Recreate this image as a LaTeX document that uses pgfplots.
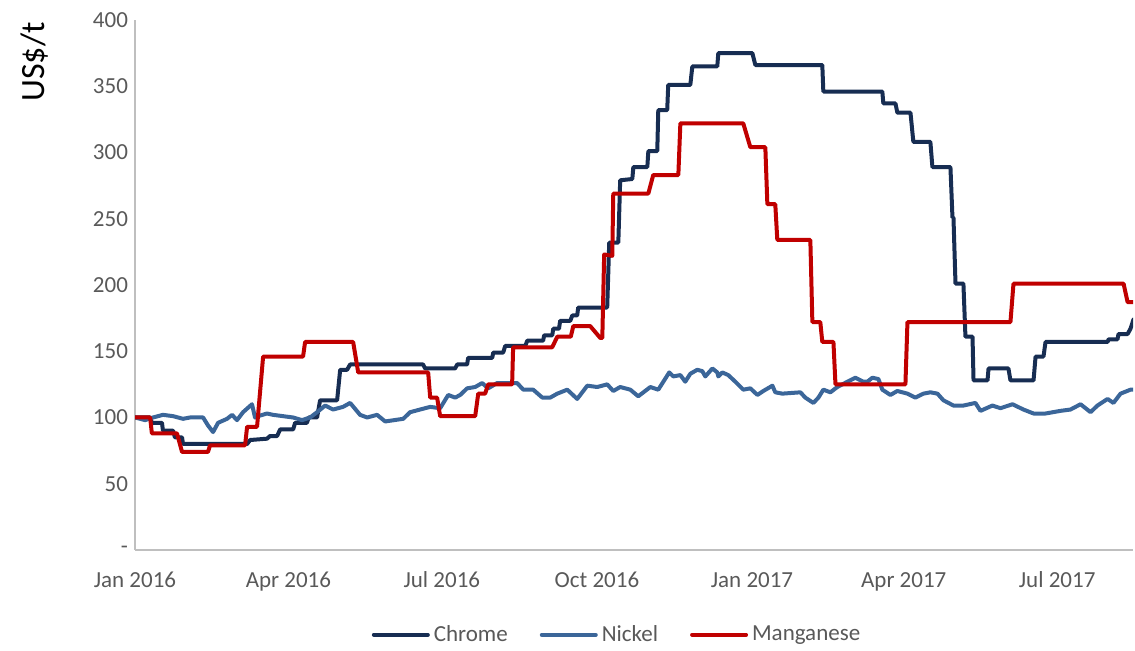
\documentclass[border=0pt]{standalone}
\usepackage{pgfplots}
\pgfplotsset{compat=1.18}
\usepackage{fontspec}
\setmainfont{Carlito}
\definecolor{chrome}{HTML}{172D52}
\definecolor{nickel}{HTML}{3B6699}
\definecolor{mangan}{HTML}{C00000}
\definecolor{axgray}{HTML}{BFBFBF}
\definecolor{txtgray}{HTML}{595959}
\begin{document}
\begin{tikzpicture}
\begin{axis}[
  scale only axis,
  width=499pt, height=265pt,
  xmin=0, xmax=592, ymin=0, ymax=400,
  enlargelimits=false,
  axis x line=bottom, axis y line=left,
  axis line style={-, draw=axgray, line width=0.8pt},
  major tick length=0pt,
  xtick={0,91,182,274,366,456,547},
  xticklabels={Jan 2016,Apr 2016,Jul 2016,Oct 2016,Jan 2017,Apr 2017,Jul 2017},
  ytick={0,50,100,150,200,250,300,350,400},
  yticklabels={-,50,100,150,200,250,300,350,400},
  /pgf/number format/assume math mode=true,
  tick label style={font=\fontsize{11.5}{13}\selectfont, text=txtgray},
  xticklabel style={text height=8pt, text depth=2.5pt, yshift=-7pt},
  legend columns=3,
  legend style={draw=none, at={(0.484,-0.16)}, anchor=center, inner sep=1pt,
    font=\fontsize{11.5}{13}\selectfont, text=txtgray,
    /tikz/every even column/.append style={column sep=14pt}},
  legend image code/.code={\draw[#1] (0pt,0pt) -- (27pt,0pt);},
  every axis plot/.append style={line width=2pt, line join=round, line cap=round},
]
\addplot[chrome] coordinates {
(0,100)(9,100)(10,96)(16,96)(16.6,90)(22.6,90)(23.7,85)(27.9,85)(28.5,80)(66.5,80)(68.3,83)(78.3,84)(80.1,86)(84.3,86)(86.1,91)(93.8,91)(95,96)(102,96)(103,100)(108,100)(109.8,113)(119.9,113)(121.7,136)(125.8,136)(127.6,140)(170.9,140)(172.1,137)(189.9,137)(191.1,140)(197,140)(197.6,145)(211.9,145)(212.5,149)(218.4,149)(219.6,154)(231.5,154)(232.7,158)(242.1,158)(242.7,162)(247.5,162)(248.1,167)(251.5,167)(252.2,173)(258.2,173)(259.4,177)(262.3,177)(262.9,183)(280.1,183)(281.3,232)(286.7,232)(287.8,279)(295,280)(295.6,289)(303.9,289)(304.5,301)(309.8,301)(310.4,332)(315.7,332)(316.3,351)(329.4,351)(330.6,365)(345.4,365)(346,375)(366.2,375)(368,366)(407.7,366)(408.3,346)(443.3,346)(443.9,337)(451.1,337)(452.2,330)(460,330)(461.7,308)(471.8,308)(473,289)(483.7,289)(484.9,251)(485.5,251)(486.7,201)(491.4,201)(492.6,161)(496.8,161)(497.4,128)(505.7,128)(506.3,137)(518.1,137)(519.3,128)(533,128)(534.2,146)(538.9,146)(540.1,157)(576.9,157)(577.5,159)(582.8,159)(583.4,163)(588.8,163)(590.5,167)(592.3,174)
};
\addlegendentry{Chrome}
\addplot[nickel] coordinates {
(0,100)(6,98)(10.7,100)(16.6,102)(22.6,101)(28.5,99)(32.6,100)(40.4,100)(43.3,94)(46.3,89)(49.3,96)(54.6,99)(57.6,102)(60.5,98)(64.1,104)(69.4,110)(71.2,100)(73,101)(78.3,103)(81.9,102)(87.8,101)(93.8,100)(99.1,98)(103.9,100)(108,104)(112.8,109)(117.5,106)(123.4,108)(127.6,111)(133.5,102)(137.7,100)(143.6,102)(148.4,97)(159.1,99)(163.2,104)(169.1,106)(175.1,108)(181,107)(185.8,117)(189.9,115)(192.9,117)(197,122)(201.8,123)(205.9,126)(209.5,122)(214.8,126)(220.8,126)(226.7,126)(230.3,121)(236.2,121)(241.6,115)(246.3,115)(250.5,118)(256.4,121)(262.3,114)(268.3,124)(274.2,123)(280.1,125)(283.7,120)(287.8,123)(293.8,121)(298.5,116)(305.7,123)(310.4,121)(313.4,127)(316.9,134)(319.3,131)(323.5,132)(326.4,127)(329.4,133)(333.5,136)(336.5,135)(338.3,131)(342.5,137)(345.4,134)(346,131)(348.4,134)(351.9,132)(356.1,127)(360.8,121)(365,122)(369.2,117)(372.7,120)(378.1,124)(379.8,119)(384,118)(394.7,119)(397.6,115)(402.4,111)(405.4,115)(408.3,121)(412.5,119)(416.6,123)(422.6,127)(427.3,130)(432.1,127)(434.4,127)(437.4,130)(441,129)(443.3,121)(448.1,117)(452.2,120)(458.2,118)(462.9,115)(467.7,118)(471.8,119)(476,118)(479.5,113)(485.5,109)(491.4,109)(498.5,111)(501.5,105)(508.6,109)(513.4,107)(520.5,110)(527,106)(533,103)(540.1,103)(549,105)(554.9,106)(560.9,110)(566.8,104)(570.9,109)(576.9,114)(580.4,111)(584.6,118)(590.5,121)(592.3,121)
};
\addlegendentry{Nickel}
\addplot[mangan] coordinates {
(0,100)(9,100)(10,88)(24.9,88)(27.9,74)(43.3,74)(44.5,79)(65.3,79)(66.5,93)(72.4,93)(76,146)(99.7,146)(100.9,157)(129.4,157)(132.4,134)(173.9,134)(175.1,115)(179.2,115)(181,101)(201.8,101)(203.6,118)(207.7,118)(209.5,125)(223.7,125)(224.3,153)(247.5,153)(250.5,161)(258.5,161)(260,169)(270,169)(276,160)(277.2,160)(278.3,223)(283.1,222)(283.7,269)(304.5,269)(307.4,283)(322.3,283)(323.5,322)(360.8,322)(365,304)(373.9,304)(375.1,261)(379.8,261)(381,234)(400.6,234)(401.8,172)(406.5,172)(407.7,157)(414.3,157)(415.5,125)(457,125)(458.2,172)(519.3,172)(521.1,201)(586.4,201)(588.8,187)(592.3,187)
};
\addlegendentry{Manganese}
\coordinate (bl) at (rel axis cs:0,0);
\coordinate (tr) at (rel axis cs:1,1);
\coordinate (tl) at (rel axis cs:0,1);
\end{axis}
\node[rotate=90, font=\fontsize{17}{20}\selectfont, anchor=center] at ([xshift=-50pt,yshift=-21pt]tl) {US\$/t};
\path ([xshift=-67.5pt,yshift=-48.5pt]bl) rectangle ([xshift=1pt,yshift=10pt]tr);
\end{tikzpicture}
\end{document}
